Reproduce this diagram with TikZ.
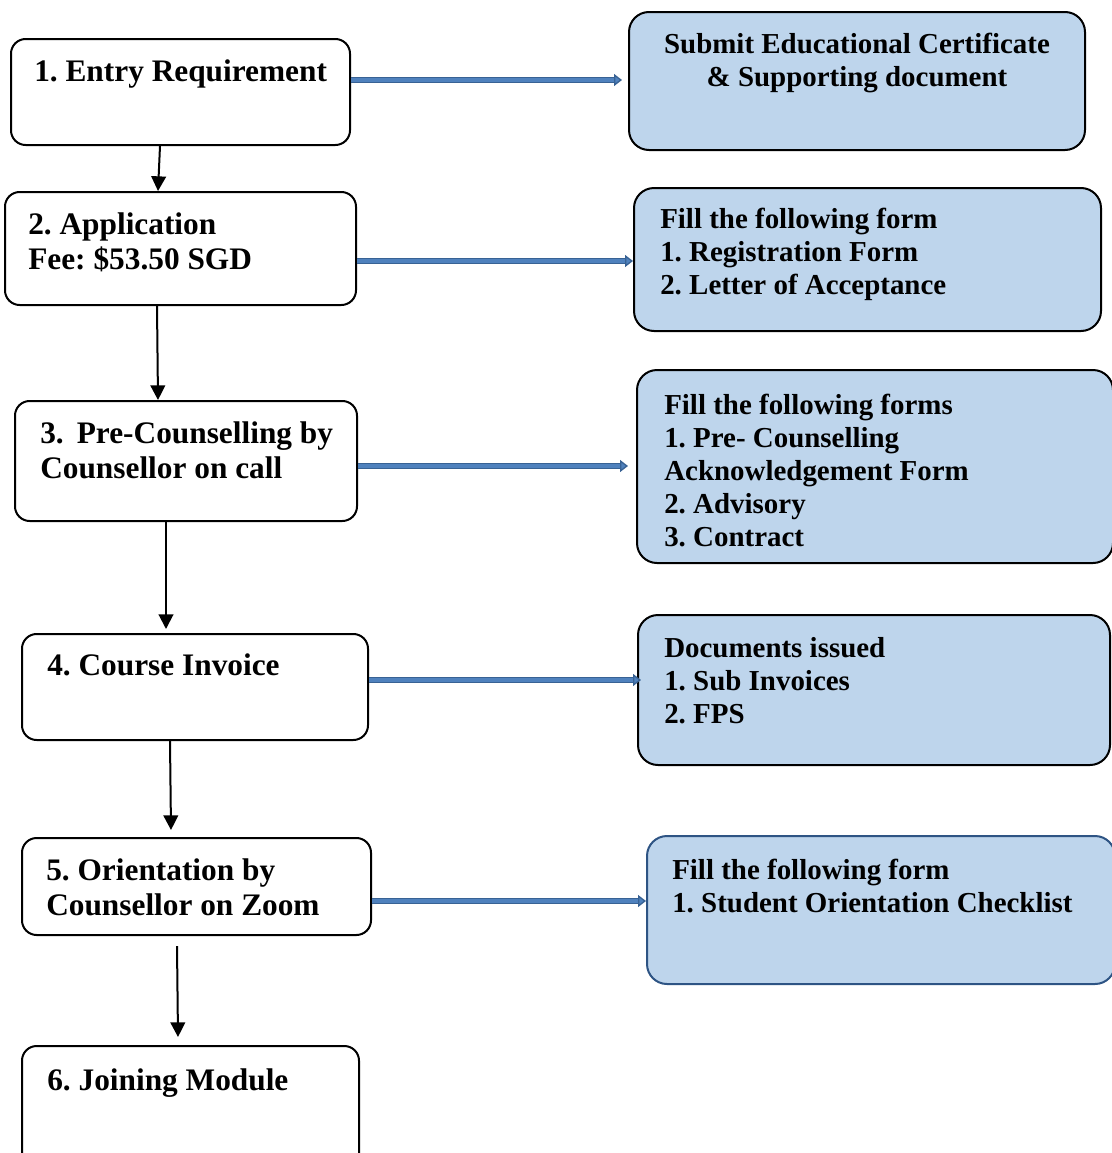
\documentclass[tikz,border=0pt]{standalone}
\usepackage{fontspec}
\setmainfont{Liberation Serif}
\usetikzlibrary{arrows.meta,fit}
\definecolor{boxblue}{RGB}{190,213,236}
\definecolor{arrowblue}{RGB}{79,129,189}
\definecolor{arrowdark}{RGB}{56,98,148}
\definecolor{edgeblue}{RGB}{46,84,132}
\tikzset{
  lbox/.style={draw=black, line width=1.5pt, rounded corners=11pt, inner sep=0pt, fill=white},
  rbox/.style={draw=black, line width=1.5pt, rounded corners=15pt, inner sep=0pt, fill=boxblue},
  ltext/.style={inner sep=0pt, anchor=base west, align=left, font=\frenchspacing\bfseries\fontsize{23.5}{26.5}\selectfont},
  rtext/.style={inner sep=0pt, anchor=base west, align=left, font=\frenchspacing\bfseries\fontsize{21.7}{24.75}\selectfont},
  downarrow/.style={draw=black, line width=1.5pt, -{Triangle[length=11pt,width=11pt]}},
  bluearrow/.style={draw=arrowdark, line width=1pt, double=arrowblue, double distance=2.4pt, -{Triangle[length=6pt,width=9pt,fill=arrowblue]}}
}
\begin{document}
\begin{tikzpicture}[x=0.75pt,y=-0.75pt]
\useasboundingbox (0,0) rectangle (1112,1153);
\clip (0,0) rectangle (1112,1153);
\fill[white] (0,0) rectangle (1112,1153);
% left boxes
\node[lbox, fit={(11,39) (350,145)}] (b1) {};
\node[lbox, fit={(5,192) (356,305)}] (b2) {};
\node[lbox, fit={(15,401) (357,521)}] (b3) {};
\node[lbox, fit={(22,634) (368,740)}] (b4) {};
\node[lbox, fit={(22,838) (371,935)}] (b5) {};
\node[lbox, fit={(22,1046) (359,1185)}] (b6) {};
% right boxes
\node[rbox, fit={(629,12) (1085,150)}] (r1) {};
\node[rbox, fit={(634,188) (1101,331)}] (r2) {};
\node[rbox, fit={(637,370) (1113,563)}] (r3) {};
\node[rbox, fit={(638,615) (1110,765)}] (r4) {};
\node[rbox, draw=edgeblue, fit={(647,836) (1115,984)}] (r5) {};
% left texts (anchor = baseline of last line)
\node[ltext] (t1) at (34,81) {1. Entry Requirement};
\node[ltext] (t2) at (28,269.5) {2. Application\\Fee: \$53.50 SGD};
\node[ltext] (t3) at (40,478.5) {3.~\,Pre-Counselling by\\Counsellor on call};
\node[ltext] (t4) at (47,675) {4. Course Invoice};
\node[ltext] (t5) at (46,915.5) {5. Orientation by\\Counsellor on Zoom};
\node[ltext] (t6) at (47,1090) {6. Joining Module};
% right texts (anchor = baseline of last line)
\node[rtext, anchor=base, align=center] (s1) at (857,86) {Submit Educational Certificate\\\& Supporting document};
\node[rtext] (s2) at (660,294) {Fill the following form\\1. Registration Form\\2. Letter of Acceptance};
\node[rtext] (s3) at (664,546) {Fill the following forms\\1. Pre- Counselling\\Acknowledgement Form\\2. Advisory\\3. Contract};
\node[rtext] (s4) at (664,723) {Documents issued\\1. Sub Invoices\\2. FPS};
\node[rtext] (s5) at (672,912) {Fill the following form\\1. Student Orientation Checklist};
% vertical arrows
\draw[downarrow] (b1.south -| 160,0) -- (b2.north -| 158,0);
\draw[downarrow] (b2.south -| 157,0) -- (b3.north -| 158,0);
\draw[downarrow] (b3.south -| 166,0) -- (166,629);
\draw[downarrow] (b4.south -| 170,0) -- (171,830);
\draw[downarrow] (177,946) -- (178,1037);
% horizontal arrows
\draw[bluearrow] (b1.east |- 0,80) -- (622,80);
\draw[bluearrow] (b2.east |- 0,261) -- (r2.west |- 0,261);
\draw[bluearrow] (b3.east |- 0,466) -- (628,466);
\draw[bluearrow] (b4.east |- 0,680) -- (641,680);
\draw[bluearrow] (b5.east |- 0,901) -- (r5.west |- 0,901);
\end{tikzpicture}
\end{document}
